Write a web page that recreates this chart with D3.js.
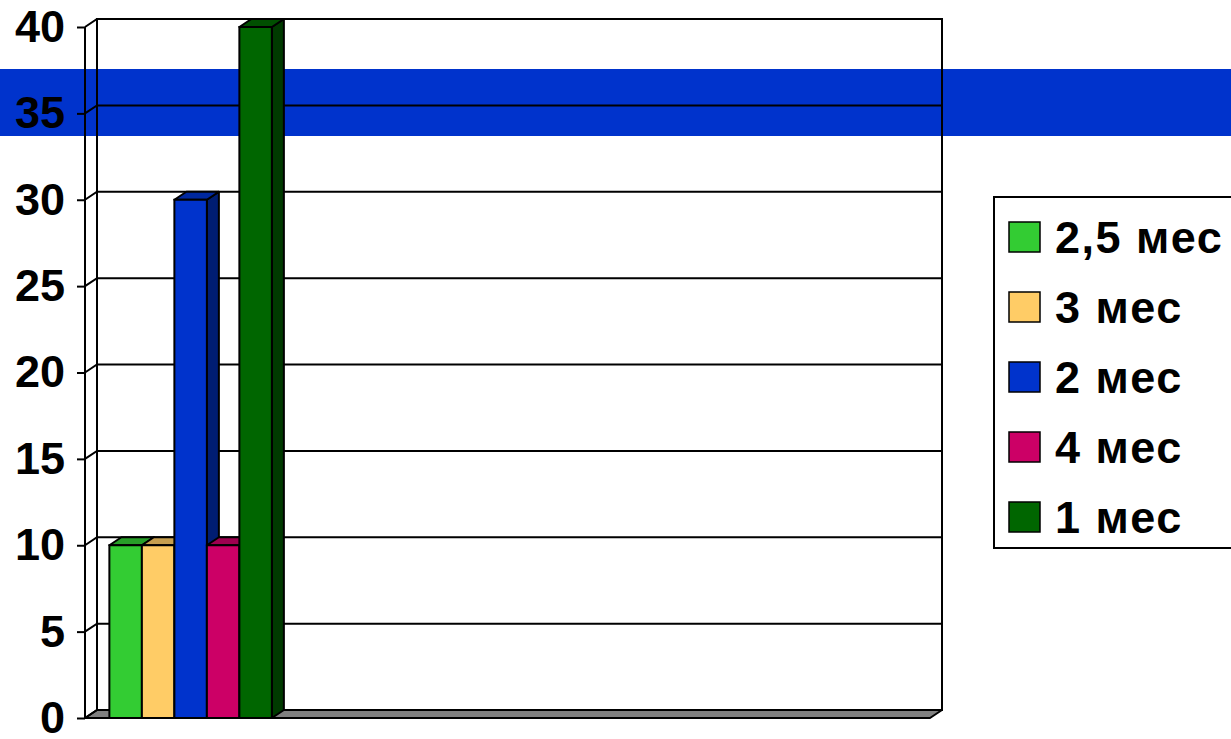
<!DOCTYPE html>
<html>
<head>
<meta charset="utf-8">
<script src="https://cdn.jsdelivr.net/npm/d3@7"></script>
<style>
  body { margin: 0; background: #fff; overflow: hidden; }
  text { font-family: "Liberation Sans", Arial, sans-serif; font-weight: bold; }
</style>
</head>
<body>
<div id="viz"><svg></svg></div>
<script>
// data
const categories = ['c1', 'c2', 'c3', 'c4'];   // only the first one has values
const seriesNames = ['2,5 мес', '3 мес', '2 мес', '4 мес', '1 мес'];
const seriesValues = [10, 10, 30, 10, 40];
const seriesColors = ['#33cc33', '#ffcc66', '#0033cc', '#cc0066', '#006600'];
const yTicks = [0, 5, 10, 15, 20, 25, 30, 35, 40];

const SETTINGS = {
    width: 1231,
    height: 739,
    left: 85, right: 930, bottom: 718, top: 27,
    dx: 12, dy: 8,
    fontSize: 45
};

let svg = d3.select('#viz').select('svg')
    .attr('width', SETTINGS.width)
    .attr('height', SETTINGS.height);

// blue band behind the whole chart
svg.append('rect')
    .attr('x', 0).attr('y', 69)
    .attr('width', SETTINGS.width).attr('height', 67)
    .attr('fill', '#0033cc');

let yScale = d3.scaleLinear()
    .domain([0, 40])
    .range([SETTINGS.bottom, SETTINGS.top]);

let x0 = d3.scaleBand()
    .domain(categories)
    .range([SETTINGS.left, SETTINGS.right]);

let x1 = d3.scaleBand()
    .domain(seriesNames)
    .range([0, x0.bandwidth()])
    .paddingInner(0)
    .paddingOuter(0.75);

const dx = SETTINGS.dx, dy = SETTINGS.dy;
const poly = pts => 'M' + pts.map(p => p.join(',')).join('L') + 'Z';

// floor
svg.append('path')
    .attr('d', poly([[SETTINGS.left, SETTINGS.bottom], [SETTINGS.right, SETTINGS.bottom],
        [SETTINGS.right + dx, SETTINGS.bottom - dy], [SETTINGS.left + dx, SETTINGS.bottom - dy]]))
    .attr('fill', '#808080')
    .attr('stroke', '#000')
    .attr('stroke-width', 2)
    .attr('stroke-linejoin', 'round');

// back wall outline
svg.append('rect')
    .attr('x', SETTINGS.left + dx)
    .attr('y', yScale(40) - dy)
    .attr('width', SETTINGS.right - SETTINGS.left)
    .attr('height', yScale(0) - yScale(40))
    .attr('fill', 'none')
    .attr('stroke', '#000')
    .attr('stroke-width', 2);

// gridlines on the back wall and left wall
svg.selectAll('.grid')
    .data(yTicks)
    .enter()
    .append('path')
    .attr('class', 'grid')
    .attr('d', d => `M${SETTINGS.left},${yScale(d)}L${SETTINGS.left + dx},${yScale(d) - dy}L${SETTINGS.right + dx},${yScale(d) - dy}`)
    .attr('fill', 'none')
    .attr('stroke', '#000')
    .attr('stroke-width', 2);

// left wall back edge
svg.append('line')
    .attr('x1', SETTINGS.left + dx).attr('x2', SETTINGS.left + dx)
    .attr('y1', yScale(40) - dy).attr('y2', yScale(0) - dy)
    .attr('stroke', '#000').attr('stroke-width', 2);

// bars
let bars = svg.selectAll('.bar')
    .data(seriesValues)
    .enter()
    .append('g')
    .attr('class', 'bar');

bars.each(function (d, i) {
    let g = d3.select(this);
    let x = x0(categories[0]) + x1(seriesNames[i]);
    let w = x1.bandwidth();
    let yT = yScale(d), yB = yScale(0);
    let c = d3.rgb(seriesColors[i]);
    // side
    g.append('path')
        .attr('d', poly([[x + w, yT], [x + w + dx, yT - dy], [x + w + dx, yB - dy], [x + w, yB]]))
        .attr('fill', c.darker(1.6))
        .attr('stroke', '#000').attr('stroke-width', 2).attr('stroke-linejoin', 'round');
    // top
    g.append('path')
        .attr('d', poly([[x, yT], [x + dx, yT - dy], [x + w + dx, yT - dy], [x + w, yT]]))
        .attr('fill', c.darker(0.7))
        .attr('stroke', '#000').attr('stroke-width', 2).attr('stroke-linejoin', 'round');
    // front
    g.append('rect')
        .attr('x', x).attr('y', yT)
        .attr('width', w).attr('height', yB - yT)
        .attr('fill', c)
        .attr('stroke', '#000').attr('stroke-width', 2);
});

// front axis
svg.append('line')
    .attr('x1', SETTINGS.left).attr('x2', SETTINGS.left)
    .attr('y1', yScale(40)).attr('y2', yScale(0))
    .attr('stroke', '#000').attr('stroke-width', 2);

svg.append('line')
    .attr('x1', SETTINGS.left).attr('x2', SETTINGS.right)
    .attr('y1', yScale(0)).attr('y2', yScale(0))
    .attr('stroke', '#000').attr('stroke-width', 2);

// ticks + labels
let yAxis = d3.axisLeft(yScale)
    .tickValues(yTicks)
    .tickSize(8)
    .tickPadding(12);

let ax = svg.append('g')
    .attr('transform', `translate(${SETTINGS.left},0)`)
    .call(yAxis);
ax.select('.domain').remove();
ax.selectAll('line').attr('stroke', '#000').attr('stroke-width', 2);
ax.selectAll('text')
    .attr('font-size', SETTINGS.fontSize)
    .attr('font-family', '"Liberation Sans", Arial, sans-serif')
    .attr('font-weight', 'bold')
    .attr('fill', '#000');

// legend
let legend = svg.append('g').attr('transform', 'translate(994,197)');
legend.append('rect')
    .attr('width', 260).attr('height', 351)
    .attr('fill', '#fff')
    .attr('stroke', '#000').attr('stroke-width', 2);

let items = legend.selectAll('.item')
    .data(seriesNames)
    .enter()
    .append('g')
    .attr('class', 'item')
    .attr('transform', (d, i) => `translate(0,${40 + i * 70})`);

items.append('rect')
    .attr('x', 15).attr('y', -15)
    .attr('width', 31).attr('height', 30)
    .attr('fill', (d, i) => seriesColors[i])
    .attr('stroke', '#000').attr('stroke-width', 1.5);

items.append('text')
    .attr('x', 61)
    .attr('dy', '0.36em')
    .attr('font-size', SETTINGS.fontSize)
    .attr('letter-spacing', 1.5)
    .text(d => d);
</script>
</body>
</html>
